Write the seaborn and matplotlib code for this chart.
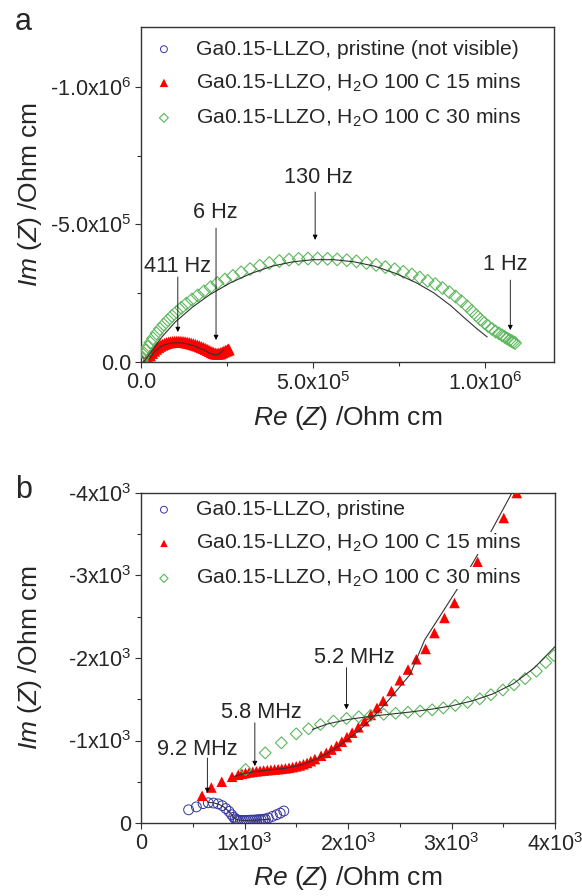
import matplotlib
matplotlib.use('Agg')
import matplotlib.pyplot as plt
import seaborn as sns
import numpy as np

# ---- panel a data (kOhm cm) ----
a_red_re = [15, 20, 26, 32, 38, 44, 50, 56, 62, 68, 74, 80, 86, 92, 98, 104, 110, 116,
            122, 128, 134, 140, 146, 152, 158, 164, 170, 176, 182, 188, 194, 200, 206,
            211, 216, 221, 226, 231, 236, 241, 246, 251, 255]
a_red_im = [-5, -14, -24, -33, -41, -48, -54, -59, -63, -66, -69, -71, -72, -73, -73.5, -74, -74,
            -73.5, -73, -72, -70.5, -69, -67, -65, -62.5, -60, -57, -54, -51, -47.5, -44, -40, -36,
            -33, -31, -30, -30.5, -32, -35, -38, -41, -44, -46]
a_red_fit_re = [25, 40, 60, 80, 100, 120, 140, 160, 180, 200, 215, 228, 240]
a_red_fit_im = [-12, -38, -58, -67, -70, -69, -64, -56, -45, -32, -25, -30, -44]

a_green_re = [2, 5, 10, 15, 20, 27, 35, 45, 55, 66, 78, 90, 103, 117, 132, 148, 165, 183,
              202, 222, 244, 267, 291, 317, 345, 373, 402, 430, 458, 485, 513, 542, 570,
              598, 626, 655, 683, 710, 737, 762, 787, 810, 833, 855, 876, 896, 914, 931,
              947, 961, 974, 986, 998, 1009, 1020, 1030, 1040, 1049, 1057, 1064, 1071,
              1077, 1082, 1087]
a_green_im = [-3, -15, -30, -43, -55, -70, -86, -104, -120, -136, -152, -167, -182, -197,
              -212, -227, -242, -257, -272, -287, -300, -313, -326, -338, -350, -360, -367,
              -372, -375, -376, -376, -375, -373, -370, -366, -360, -353, -345, -337, -328,
              -318, -307, -295, -283, -269, -254, -238, -221, -203, -186, -170, -155, -142,
              -130, -120, -111, -104, -97, -91, -85, -80, -76, -72, -69]
a_green_fit_re = [8, 30, 60, 100, 150, 200, 260, 320, 380, 440, 500, 560, 620, 680, 740,
                  800, 850, 900, 940, 975, 1006]
a_green_fit_im = [0, -38, -90, -146, -200, -245, -288, -322, -348, -364, -372, -372, -364,
                  -348, -322, -288, -252, -205, -160, -122, -91]

# ---- panel b data (Ohm cm) ----
b_blue_re = [460, 535, 600, 650, 700, 745, 785, 820, 850, 875, 895, 910, 925, 940, 960, 980,
             1000, 1020, 1040, 1060, 1080, 1100, 1120, 1140, 1160, 1180, 1200, 1230, 1270,
             1310, 1345, 1380]
b_blue_im = [-160, -195, -235, -245, -242, -232, -210, -175, -140, -100, -70, -50, -40, -35,
             -32, -30, -30, -31, -33, -35, -34, -36, -38, -40, -42, -45, -48, -60, -80, -100,
             -120, -145]
b_blue_fit_re = [650, 700, 750, 800, 850, 880, 900, 930, 1000, 1100, 1200, 1250]
b_blue_fit_im = [-250, -245, -228, -195, -140, -95, -60, -38, -30, -34, -42, -48]

b_red_re = [590, 680, 780, 880, 940, 975, 1010, 1045, 1080, 1115, 1150, 1185, 1220, 1255,
            1290, 1325, 1360, 1395, 1430, 1465, 1500, 1535, 1570, 1605, 1640, 1680, 1740,
            1790, 1840, 1890, 1940, 1990, 2040, 2100, 2160, 2220, 2280, 2340, 2420, 2500,
            2580, 2660, 2750, 2835, 2932, 3029, 3140, 3252, 3505, 3631]
b_red_im = [-330, -430, -500, -560, -585, -597, -606, -614, -620, -626, -631, -636, -640,
            -644, -648, -652, -657, -662, -669, -677, -687, -698, -712, -728, -750, -775,
            -815, -850, -890, -935, -985, -1040, -1095, -1160, -1235, -1310, -1395, -1480,
            -1600, -1730, -1860, -1985, -2110, -2303, -2485, -2667, -2910, -3164, -3697, -4000]
b_red_fit_re = [900, 1000, 1100, 1200, 1300, 1400, 1500, 1600, 1700, 1800, 1900, 2000, 2100,
                2200, 2300, 2400, 2500, 2600, 2740, 2900, 3050, 3200, 3390, 3583, 3620]
b_red_fit_im = [-565, -600, -622, -637, -650, -665, -690, -728, -780, -845, -925, -1015,
                -1115, -1230, -1360, -1500, -1650, -1800, -2218, -2530, -2824, -3140, -3552,
                -4000, -4080]

b_green_re = [1010, 1200, 1356, 1500, 1619, 1734, 1860, 1986, 2104, 2219, 2345, 2460, 2579,
              2698, 2813, 2921, 3036, 3155, 3273, 3381, 3496, 3604, 3712, 3820, 3910, 3990]
b_green_im = [-648, -850, -972, -1081, -1142, -1194, -1235, -1267, -1287, -1304, -1318,
              -1330, -1342, -1356, -1372, -1395, -1425, -1462, -1505, -1555, -1612, -1675,
              -1750, -1840, -1945, -2030]
b_green_fit_re = [1655, 1800, 2000, 2200, 2400, 2600, 2800, 3000, 3200, 3400, 3600, 3800, 4000]
b_green_fit_im = [-1134, -1200, -1255, -1290, -1318, -1345, -1378, -1420, -1480, -1565,
                  -1690, -1880, -2138]

labels_a = ['Ga0.15-LLZO, pristine (not visible)',
            r'Ga0.15-LLZO, H$_2$O 100 C 15 mins',
            r'Ga0.15-LLZO, H$_2$O 100 C 30 mins']
labels_b = ['Ga0.15-LLZO, pristine',
            r'Ga0.15-LLZO, H$_2$O 100 C 15 mins',
            r'Ga0.15-LLZO, H$_2$O 100 C 30 mins']

# ---- style ----
sns.set_style('ticks')
plt.rcParams['font.family'] = ['Liberation Sans', 'DejaVu Sans']
plt.rcParams['mathtext.fontset'] = 'custom'
plt.rcParams['mathtext.rm'] = 'Liberation Sans'
plt.rcParams['mathtext.it'] = 'Liberation Sans:italic'
plt.rcParams['axes.edgecolor'] = '#333333'
plt.rcParams['axes.linewidth'] = 1.0

BLUE = '#3535a0'
RED = '#ff0000'
GREEN = '#5cb85c'
FIT = '#333333'
ANN = 15.7

fig = plt.figure(figsize=(5.82, 8.96), dpi=100)
ax_a = fig.add_axes([141 / 582, 1 - 362 / 896, 413 / 582, 335 / 896])
ax_b = fig.add_axes([141 / 582, 1 - 823 / 896, 414 / 582, 330 / 896])


def draw_series(ax, labels, blue, red, green, red_s, green_s):
    sns.scatterplot(x=blue[0], y=blue[1], ax=ax, marker='o', s=50, facecolor='none',
                    edgecolor=BLUE, linewidth=0.7, label=labels[0], zorder=2)
    sns.scatterplot(x=red[0], y=red[1], ax=ax, marker='^', s=red_s, color=RED,
                    edgecolor='none', linewidth=0, label=labels[1], zorder=3)
    sns.scatterplot(x=green[0], y=green[1], ax=ax, marker='D', s=green_s, facecolor='none',
                    edgecolor=GREEN, linewidth=0.8, label=labels[2], zorder=4)


def fit_line(ax, x, y):
    sns.lineplot(x=x, y=y, ax=ax, sort=False, estimator=None, color=FIT, lw=0.8,
                 legend=False, zorder=5)


def arrow(ax, x, y0, y1):
    ax.annotate('', xy=(x, y1), xytext=(x, y0),
                arrowprops=dict(arrowstyle='-|>', color='black', lw=0.6,
                                mutation_scale=7, shrinkA=0, shrinkB=0), zorder=6)


# ---- panel a ----
k = 1e3
draw_series(ax_a, labels_a,
            (np.array(b_blue_re), np.array(b_blue_im)),
            (np.array(a_red_re) * k, np.array(a_red_im) * k),
            (np.array(a_green_re) * k, np.array(a_green_im) * k), 75, 42)
fit_line(ax_a, np.array(a_red_fit_re) * k, np.array(a_red_fit_im) * k)
fit_line(ax_a, np.array(a_green_fit_re) * k, np.array(a_green_fit_im) * k)

ax_a.set_xlim(0, 1.2e6)
ax_a.set_ylim(0, -1.218e6)
ax_a.set_xticks([0, 5e5, 1e6])
ax_a.set_xticklabels(['0.0', r'5.0x10$^{5}$', r'1.0x10$^{6}$'])
ax_a.set_xticks([2.5e5, 7.5e5], minor=True)
ax_a.set_yticks([0, -5e5, -1e6])
ax_a.set_yticklabels(['0.0', r'-5.0x10$^{5}$', r'-1.0x10$^{6}$'])
ax_a.set_yticks([-2.5e5, -7.5e5], minor=True)

arrow(ax_a, 107e3, -309e3, -109e3)
arrow(ax_a, 218e3, -487e3, -80e3)
arrow(ax_a, 506e3, -618e3, -444e3)
arrow(ax_a, 1073e3, -298e3, -116e3)
ax_a.text(107e3, -349e3, '411 Hz', ha='center', va='center', fontsize=ANN)
ax_a.text(216e3, -542e3, '6 Hz', ha='center', va='center', fontsize=ANN)
ax_a.text(515e3, -669e3, '130 Hz', ha='center', va='center', fontsize=ANN)
ax_a.text(1058e3, -353e3, '1 Hz', ha='center', va='center', fontsize=ANN)

# ---- panel b ----
draw_series(ax_b, labels_b,
            (b_blue_re, b_blue_im), (b_red_re, b_red_im), (b_green_re, b_green_im), 58, 36)
fit_line(ax_b, b_blue_fit_re, b_blue_fit_im)
fit_line(ax_b, b_red_fit_re, b_red_fit_im)
fit_line(ax_b, b_green_fit_re, b_green_fit_im)

ax_b.set_xlim(0, 4000)
ax_b.set_ylim(0, -4000)
ax_b.set_xticks([0, 1000, 2000, 3000, 4000])
ax_b.set_xticklabels(['0', r'1x10$^{3}$', r'2x10$^{3}$', r'3x10$^{3}$', r'4x10$^{3}$'])
ax_b.set_xticks([500, 1500, 2500, 3500], minor=True)
ax_b.set_yticks([0, -1000, -2000, -3000, -4000])
ax_b.set_yticklabels(['0', r'-1x10$^{3}$', r'-2x10$^{3}$', r'-3x10$^{3}$', r'-4x10$^{3}$'])
ax_b.set_yticks([-500, -1500, -2500, -3500], minor=True)

arrow(ax_b, 641, -788, -364)
arrow(ax_b, 1100, -1215, -690)
arrow(ax_b, 1985, -1883, -1377)
ax_b.text(544, -885, '9.2 MHz', ha='center', va='center', fontsize=ANN)
ax_b.text(1160, -1340, '5.8 MHz', ha='center', va='center', fontsize=ANN)
ax_b.text(2058, -2004, '5.2 MHz', ha='center', va='center', fontsize=ANN)

# ---- common axes formatting ----
for ax, top in ((ax_a, 0.962), (ax_b, 0.978)):
    ax.tick_params(which='both', direction='out', labelsize=15.5, width=0.8,
                   color='#333333', pad=3)
    ax.tick_params(which='major', length=4)
    ax.tick_params(which='minor', length=3)
    ax.set_xlabel(r'$\mathit{Re\ (Z)}$ /Ohm cm', fontsize=19)
    ax.set_ylabel(r'$\mathit{Im\ (Z)}$ /Ohm cm', fontsize=19)
    ax.yaxis.set_label_coords(-0.235, 0.5)
    ax.xaxis.set_label_coords(0.5, -0.125)
    leg = ax.legend(loc='upper left', bbox_to_anchor=(0.035, top), frameon=False,
                    fontsize=15.2, handletextpad=1.1, handlelength=0.8,
                    labelspacing=0.6, borderaxespad=0, borderpad=0, markerscale=0.7)
    for t in leg.get_texts():
        t.set_bbox(dict(facecolor='white', edgecolor='none', pad=0))
    leg.set_zorder(10)

fig.text(15 / 582, 1 - 30 / 896, 'a', fontsize=22)
fig.text(15 / 582, 1 - 498 / 896, 'b', fontsize=22)

fig.savefig('out.png', dpi=100)
